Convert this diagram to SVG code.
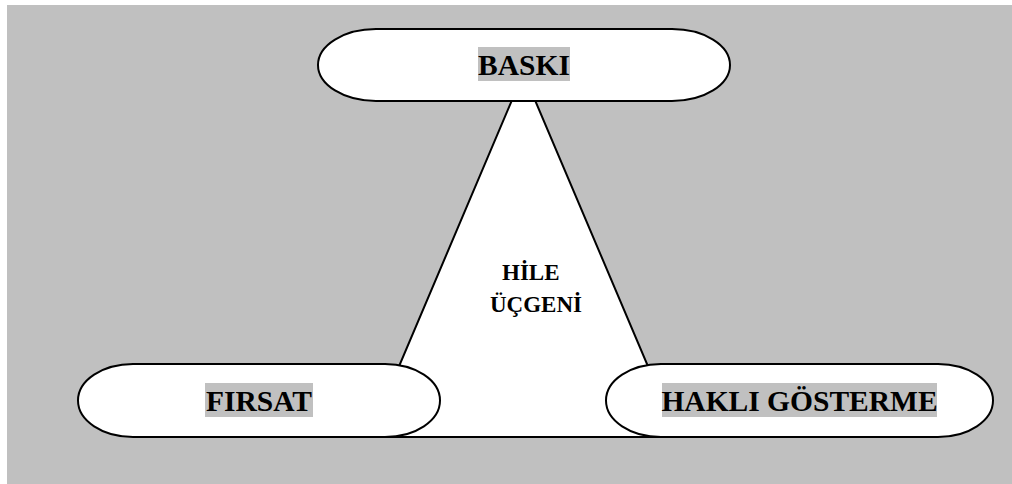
<svg xmlns="http://www.w3.org/2000/svg" width="1012" height="484" viewBox="0 0 1012 484">
<style>
.shape{fill:#ffffff;stroke:#000000;stroke-width:2}
.lbl{font-family:"Liberation Serif","Times New Roman",serif;font-weight:bold;font-size:29.5px;fill:#000000;text-anchor:middle}
.small{font-family:"Liberation Serif","Times New Roman",serif;font-weight:bold;font-size:23px;fill:#000000}
.hl{fill:#c0c0c0}
</style>
<rect x="7" y="5" width="1005" height="479" fill="#c0c0c0"/>
<g id="connectors"></g>
<g id="triangle">
<polygon class="shape" points="523.5,73 369,437 678,437"/>
<text class="small" x="502" y="280">HİLE</text>
<text class="small" x="490" y="312">ÜÇGENİ</text>
</g>
<g id="baski">
<rect class="shape" x="318" y="29" width="412" height="72" rx="58" ry="36"/>
<rect class="hl" x="478" y="47" width="92" height="34"/>
<text class="lbl" x="524" y="75">BASKI</text>
</g>
<g id="firsat">
<rect class="shape" x="78" y="364" width="362" height="73" rx="55" ry="36.5"/>
<rect class="hl" x="205" y="383" width="108" height="34"/>
<text class="lbl" x="259" y="411">FIRSAT</text>
</g>
<g id="hakli">
<rect class="shape" x="606" y="364" width="387" height="73" rx="55" ry="36.5"/>
<rect class="hl" x="662" y="383" width="275" height="34"/>
<text class="lbl" x="799.5" y="411">HAKLI GÖSTERME</text>
</g>
</svg>
